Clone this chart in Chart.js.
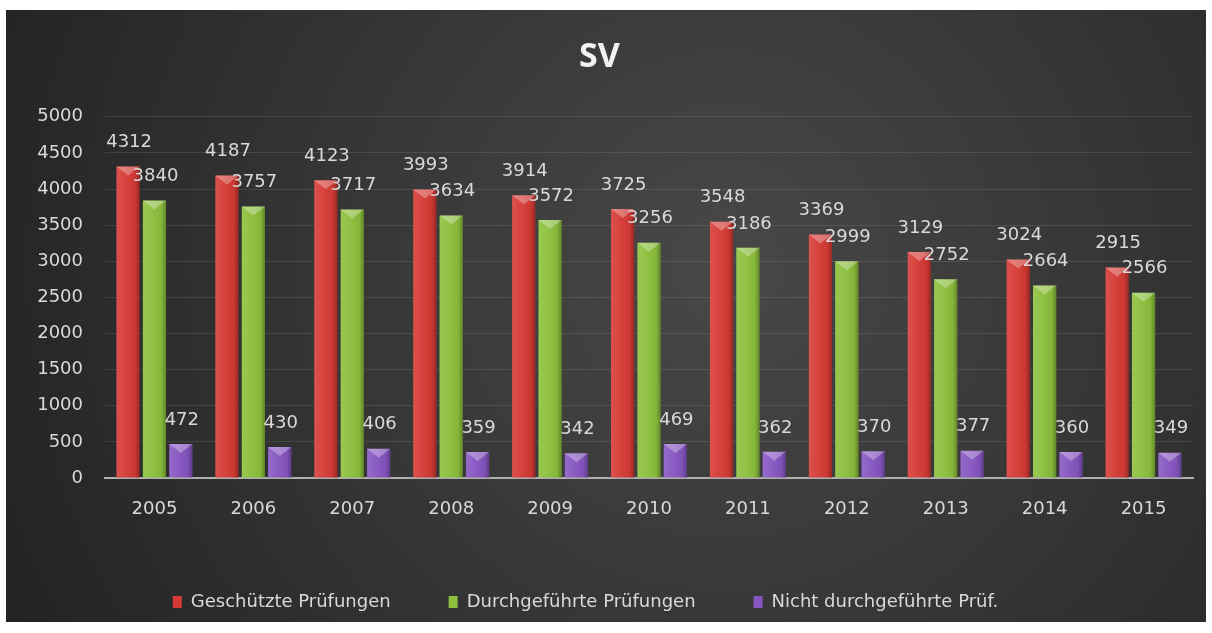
<!DOCTYPE html>
<html>
<head>
<meta charset="utf-8">
<script src="https://cdn.jsdelivr.net/npm/chart.js@4"></script>
<style>
  html, body { margin: 0; padding: 0; background: #ffffff; }
  #wrap { position: absolute; left: 6px; top: 10px; width: 1200px; height: 612px; }
</style>
</head>
<body>
<div id="wrap"><canvas id="svChart"></canvas></div>
<script>
const years = ["2005", "2006", "2007", "2008", "2009", "2010", "2011", "2012", "2013", "2014", "2015"];
const geschuetzt = [4312, 4187, 4123, 3993, 3914, 3725, 3548, 3369, 3129, 3024, 2915];
const durchgefuehrt = [3840, 3757, 3717, 3634, 3572, 3256, 3186, 2999, 2752, 2664, 2566];
const nichtDurch = [472, 430, 406, 359, 342, 469, 362, 370, 377, 360, 349];
const seriesNames = ["Geschützte Prüfungen", "Durchgeführte Prüfungen", "Nicht durchgeführte Prüf."];
const yTicks = [0, 500, 1000, 1500, 2000, 2500, 3000, 3500, 4000, 4500, 5000];

const txtColor = "#d9d9d9";
const fontName = "'DejaVu Sans', sans-serif";

// dark radial background
const bgPlugin = {
  id: "bg",
  beforeDraw(chart) {
    const c = chart.ctx, w = chart.width, h = chart.height;
    const g = c.createRadialGradient(w * 0.6, h * 0.42, 20, w * 0.6, h * 0.42, w * 0.75);
    g.addColorStop(0, "#474747");
    g.addColorStop(1, "#1e1e1e");
    c.save();
    c.fillStyle = g;
    c.fillRect(0, 0, w, h);
    c.restore();
  },
  afterLayout(chart) {
    // legend sits a bit left of centre in the original
    chart.legend.left -= 14;
    chart.legend.right -= 14;
  }
};

// cylinder-ish shading + value labels
const barLook = {
  id: "barLook",
  afterDatasetsDraw(chart) {
    const c = chart.ctx;
    chart.data.datasets.forEach((ds, i) => {
      const meta = chart.getDatasetMeta(i);
      meta.data.forEach((bar, j) => {
        const left = bar.x - bar.width / 2, right = bar.x + bar.width / 2;
        const top = bar.y, bottom = bar.base;
        c.save();
        const g = c.createLinearGradient(left, 0, right, 0);
        g.addColorStop(0, "rgba(255,255,255,0.12)");
        g.addColorStop(0.35, "rgba(255,255,255,0.05)");
        g.addColorStop(0.8, "rgba(0,0,0,0.05)");
        g.addColorStop(1, "rgba(0,0,0,0.3)");
        c.fillStyle = g;
        c.fillRect(left, top, right - left, bottom - top);
        // top cap
        c.beginPath();
        c.moveTo(left, top);
        c.lineTo(right, top);
        c.lineTo(bar.x, top + 9);
        c.closePath();
        c.fillStyle = "rgba(255,255,255,0.3)";
        c.fill();
        // value
        c.fillStyle = txtColor;
        c.font = "18px " + fontName;
        c.textAlign = "center";
        c.textBaseline = "bottom";
        c.fillText(ds.data[j], bar.x + 1, top - 15);
        c.restore();
      });
    });
  }
};

new Chart(document.getElementById("svChart"), {
  type: "bar",
  data: {
    labels: years,
    datasets: [
      { label: seriesNames[0], data: geschuetzt, backgroundColor: "#d63a34" },
      { label: seriesNames[1], data: durchgefuehrt, backgroundColor: "#8cc03c" },
      { label: seriesNames[2], data: nichtDurch, backgroundColor: "#8656c2" }
    ]
  },
  options: {
    responsive: true,
    maintainAspectRatio: false,
    animation: false,
    layout: { padding: { left: 0, right: 13, top: 0, bottom: 1 } },
    datasets: { bar: { categoryPercentage: 0.8, barPercentage: 0.88 } },
    scales: {
      x: {
        grid: { display: false },
        border: { color: "#b0b0b0", width: 2 },
        ticks: { color: txtColor, font: { family: fontName, size: 18 }, padding: 13 },
        afterFit(s) { s.height = 57; }
      },
      y: {
        min: 0,
        max: 5000,
        afterBuildTicks(s) { s.ticks = yTicks.map(v => ({ value: v })); },
        grid: { color: "rgba(255,255,255,0.1)", drawTicks: false },
        border: { display: false },
        ticks: {
          color: txtColor,
          font: { family: fontName, size: 18 },
          padding: 22,
          callback: v => String(v)
        },
        afterFit(s) { s.width = 99; }
      }
    },
    plugins: {
      title: {
        display: true,
        text: "SV",
        color: "#f2f2f2",
        font: { family: "'Open Sans', sans-serif", size: 34, weight: "bold" },
        padding: { top: 27, bottom: 39 }
      },
      legend: {
        position: "bottom",
        labels: {
          color: txtColor,
          font: { family: fontName, size: 18 },
          boxWidth: 9,
          boxHeight: 12,
          padding: 58
        }
      },
      tooltip: { enabled: false }
    }
  },
  plugins: [bgPlugin, barLook]
});
</script>
</body>
</html>
